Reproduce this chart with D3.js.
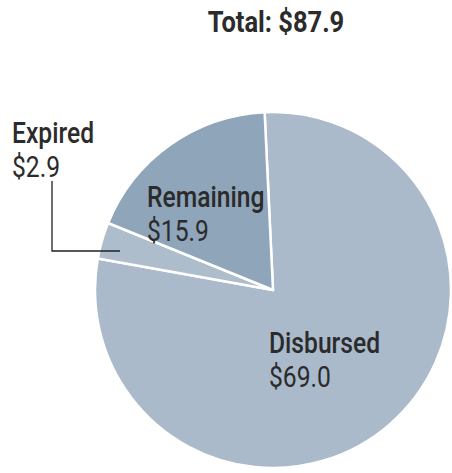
<!DOCTYPE html>
<html>
<head>
<meta charset="utf-8">
<script src="https://cdn.jsdelivr.net/npm/d3@7"></script>
<style>
  body { margin: 0; background: #fff; }
  text { font-family: Roboto, "Liberation Sans", sans-serif; fill: #2b2b2b; }
</style>
</head>
<body>
<div id="chart"></div>
<script>
// data
var categories = ["Disbursed", "Expired", "Remaining"];
var amounts = [69.0, 2.9, 15.9];
var valueLabels = ["$69.0", "$2.9", "$15.9"];
var totalLabel = "Total: $87.9";

var width = 452, height = 473;
var cx = 273, cy = 290, radius = 178;
var colors = {"Disbursed": "#aabacb", "Expired": "#aebdcc", "Remaining": "#8fa5ba"};
var squeeze = 0.85; // the original face is a condensed one

// where the two-line labels sit
var labelPos = {
  "Disbursed": [269, 353],
  "Expired":   [12, 143],
  "Remaining": [147, 207]
};

var svg = d3.select("#chart").append("svg")
  .attr("width", width)
  .attr("height", height);

var data = categories.map(function(c, i) {
  return {name: c, value: amounts[i], label: valueLabels[i]};
});

var startAngle = -2.7 * Math.PI / 180;
var pie = d3.pie()
  .sort(null)
  .value(function(d) { return d.value; })
  .startAngle(startAngle)
  .endAngle(startAngle + 2 * Math.PI);

var arc = d3.arc().innerRadius(0).outerRadius(radius);

var g = svg.append("g").attr("transform", "translate(" + cx + "," + cy + ")");

g.selectAll("path.slice").data(pie(data)).enter().append("path")
  .attr("class", "slice")
  .attr("d", arc)
  .attr("fill", function(d) { return colors[d.data.name]; })
  .attr("stroke", "#fff")
  .attr("stroke-width", 2.5)
  .attr("stroke-linejoin", "round");

// total
svg.append("text")
  .attr("transform", "translate(276,32) scale(" + squeeze + ",1)")
  .attr("text-anchor", "middle")
  .style("font-size", "30px")
  .style("font-weight", "bold")
  .text(totalLabel);

// leader line for the small slice
svg.append("path")
  .attr("d", "M52,181 V251 H120")
  .attr("fill", "none")
  .attr("stroke", "#222")
  .attr("stroke-width", 1.3);

data.forEach(function(d) {
  var p = labelPos[d.name];
  var t = svg.append("text")
    .attr("transform", "translate(" + p[0] + "," + p[1] + ") scale(" + squeeze + ",1)")
    .style("font-size", "29px");
  t.append("tspan").attr("x", 0).style("font-weight", "500").text(d.name);
  t.append("tspan").attr("x", 0).attr("dy", 34).text(d.label);
});
</script>
</body>
</html>
